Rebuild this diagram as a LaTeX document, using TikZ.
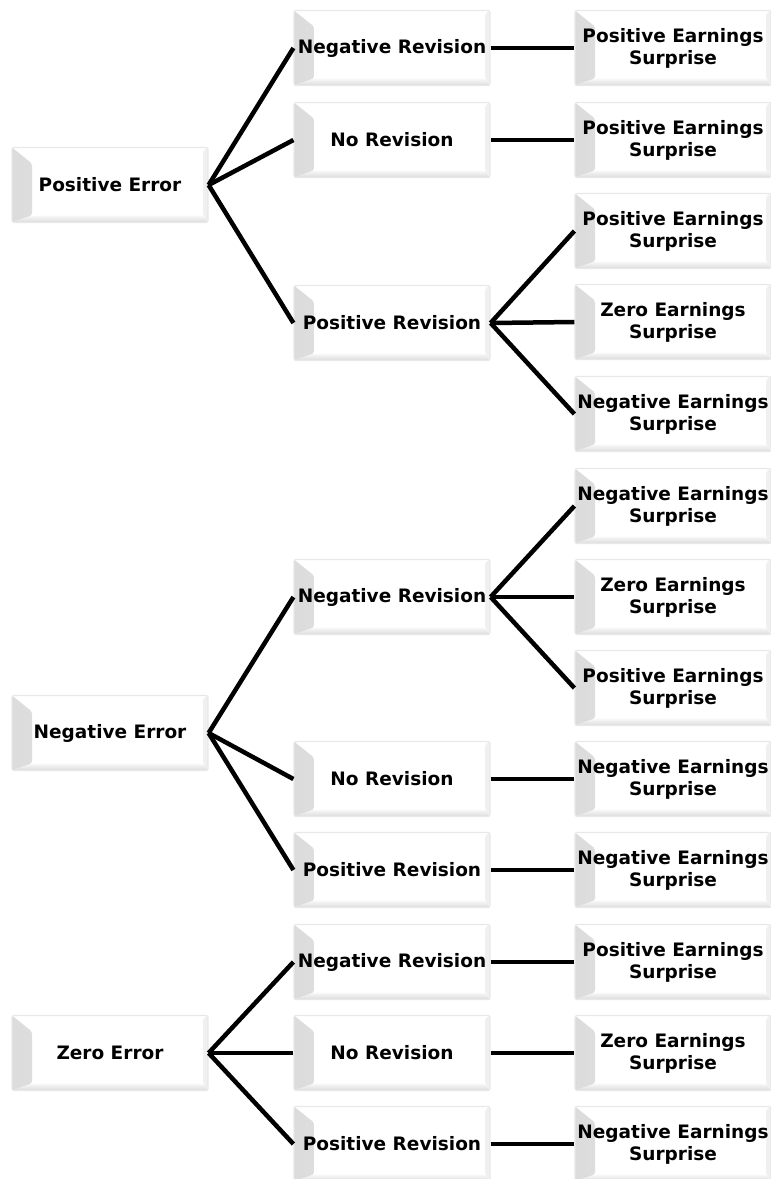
\documentclass[tikz,border=0pt]{standalone}
\usepackage{fontspec}
\setmainfont{DejaVu Sans}
\usepackage{tikz}
\usetikzlibrary{positioning}

\begin{document}
\begin{tikzpicture}[x=1pt, y=-1pt,
  choice/.style={rectangle, draw=gray!18, line width=1.2pt, rounded corners=2pt, fill=white,
    minimum width=196pt, minimum height=75pt, inner sep=1pt, align=center,
    font=\fontsize{18.5}{22}\selectfont\bfseries,
    path picture={
      \shade[left color=gray!28, right color=gray!10] (path picture bounding box.south west) -- (path picture bounding box.north west)
        -- ([xshift=20pt,yshift=-16pt]path picture bounding box.north west)
        -- ([xshift=20pt,yshift=7pt]path picture bounding box.south west) -- cycle;
      \shade[top color=gray!5, bottom color=gray!28] ([xshift=20pt,yshift=7pt]path picture bounding box.south west)
        -- (path picture bounding box.south west) -- (path picture bounding box.south east)
        -- ([xshift=-5pt,yshift=7pt]path picture bounding box.south east) -- cycle;
      \fill[gray!12] ([xshift=-5pt,yshift=7pt]path picture bounding box.south east) -- (path picture bounding box.south east)
        -- (path picture bounding box.north east) -- ([xshift=-5pt,yshift=-3pt]path picture bounding box.north east) -- cycle;
    }},
  error/.style={choice},
  revision/.style={choice},
  surprise/.style={choice},
  link/.style={line width=4.5pt, black}
]
\useasboundingbox (0,0) rectangle (771,1179);

%  : -- Positive Error branch  : --
\node[error] (pe) at (110, 185) {Positive Error};
\node[revision] (pe-nr) at (392, 48) {Negative Revision};
\node[revision] (pe-no) at (392, 140) {No Revision};
\node[revision] (pe-pr) at (392, 323) {Positive Revision};
\node[surprise] (pe-nr-s) at (673, 48) {Positive Earnings\\Surprise};
\node[surprise] (pe-no-s) at (673, 140) {Positive Earnings\\Surprise};
\node[surprise] (pe-pr-p) at (673, 231) {Positive Earnings\\Surprise};
\node[surprise] (pe-pr-z) at (673, 322) {Zero Earnings\\Surprise};
\node[surprise] (pe-pr-n) at (673, 414) {Negative Earnings\\Surprise};

%  : -- Negative Error branch  : --
\node[error] (ne) at (110, 733) {Negative Error};
\node[revision] (ne-nr) at (392, 597) {Negative Revision};
\node[revision] (ne-no) at (392, 779) {No Revision};
\node[revision] (ne-pr) at (392, 870) {Positive Revision};
\node[surprise] (ne-nr-n) at (673, 506) {Negative Earnings\\Surprise};
\node[surprise] (ne-nr-z) at (673, 597) {Zero Earnings\\Surprise};
\node[surprise] (ne-nr-p) at (673, 688) {Positive Earnings\\Surprise};
\node[surprise] (ne-no-s) at (673, 779) {Negative Earnings\\Surprise};
\node[surprise] (ne-pr-s) at (673, 870) {Negative Earnings\\Surprise};

%  : -- Zero Error branch  : --
\node[error] (ze) at (110, 1053) {Zero Error};
\node[revision] (ze-nr) at (392, 962) {Negative Revision};
\node[revision] (ze-no) at (392, 1053) {No Revision};
\node[revision] (ze-pr) at (392, 1144) {Positive Revision};
\node[surprise] (ze-nr-s) at (673, 962) {Positive Earnings\\Surprise};
\node[surprise] (ze-no-s) at (673, 1053) {Zero Earnings\\Surprise};
\node[surprise] (ze-pr-s) at (673, 1144) {Negative Earnings\\Surprise};

%  : -- Connectors  : --
\foreach \e in {pe, ne, ze} {
  \foreach \r in {nr, no, pr} {
    \draw[link] (\e.east) -- (\e-\r.west);
  }
}
\draw[link] (pe-nr.east) -- (pe-nr-s.west);
\draw[link] (pe-no.east) -- (pe-no-s.west);
\foreach \s in {p, z, n} \draw[link] (pe-pr.east) -- (pe-pr-\s.west);
\foreach \s in {n, z, p} \draw[link] (ne-nr.east) -- (ne-nr-\s.west);
\draw[link] (ne-no.east) -- (ne-no-s.west);
\draw[link] (ne-pr.east) -- (ne-pr-s.west);
\draw[link] (ze-nr.east) -- (ze-nr-s.west);
\draw[link] (ze-no.east) -- (ze-no-s.west);
\draw[link] (ze-pr.east) -- (ze-pr-s.west);

\end{tikzpicture}
\end{document}
